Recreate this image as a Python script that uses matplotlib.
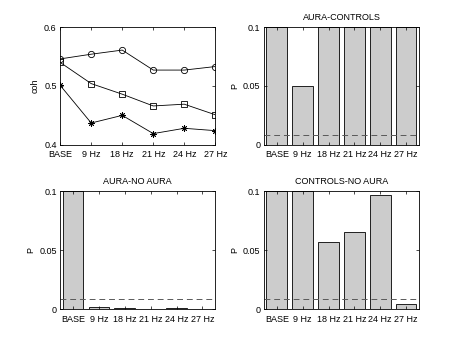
import matplotlib
matplotlib.use("Agg")
import matplotlib.pyplot as plt

plt.rcParams["font.family"] = ["Liberation Sans", "DejaVu Sans"]
plt.rcParams["font.size"] = 6.5

freqs = ["BASE", "9 Hz", "18 Hz", "21 Hz", "24 Hz", "27 Hz"]

# coherence, top-left panel
coh_circle = [0.546, 0.554, 0.561, 0.527, 0.527, 0.533]
coh_square = [0.540, 0.504, 0.486, 0.466, 0.469, 0.451]
coh_star = [0.501, 0.437, 0.450, 0.419, 0.428, 0.424]

# p-values for the three comparisons (clipped at 0.1 on the plot)
p_aura_controls = [0.1, 0.0496, 0.1, 0.1, 0.1, 0.1]
p_aura_noaura = [0.1, 0.0014, 0.0011, 0.0002, 0.0006, 0.0003]
p_controls_noaura = [0.1, 0.1, 0.0566, 0.0659, 0.0966, 0.0039]
alpha_corr = 0.05 / 6

x = list(range(1, 7))


def style(ax):
    ax.tick_params(direction="in", length=2.5, width=0.5, top=True, right=True, pad=2.5)
    ax.tick_params(axis="x", pad=4)
    for s in ax.spines.values():
        s.set_linewidth(0.6)


fig = plt.figure(figsize=(4.63, 3.48), dpi=100)

ax = fig.add_axes([0.13, 0.584, 0.335, 0.338])
for y, m in [(coh_circle, "o"), (coh_square, "s"), (coh_star, (8, 2, 0))]:
    ax.plot(x, y, color="black", lw=0.6, marker=m, ms=4.5 if m != "s" else 4,
            mfc="none", mec="black", mew=0.6)
ax.set_xlim(1, 6)
ax.set_ylim(0.4, 0.6)
ax.set_yticks([0.4, 0.5, 0.6])
ax.set_yticklabels(["0.4", "0.5", "0.6"])
ax.set_xticks(x)
ax.set_xticklabels(freqs)
ax.set_ylabel("coh", labelpad=3)
style(ax)

panels = [
    ([0.57, 0.584, 0.335, 0.338], p_aura_controls, "AURA-CONTROLS"),
    ([0.13, 0.112, 0.335, 0.338], p_aura_noaura, "AURA-NO AURA"),
    ([0.57, 0.112, 0.335, 0.338], p_controls_noaura, "CONTROLS-NO AURA"),
]
for rect, vals, title in panels:
    ax = fig.add_axes(rect)
    ax.bar(x, vals, width=0.8, color="0.8", edgecolor="black", lw=0.6)
    ax.axhline(alpha_corr, color="0.35", ls=(0, (6, 4)), lw=0.7)
    ax.set_xlim(0.5, 6.5)
    ax.set_ylim(0, 0.1)
    ax.set_yticks([0, 0.05, 0.1])
    ax.set_yticklabels(["0", "0.05", "0.1"])
    ax.set_xticks(x)
    ax.set_xticklabels(freqs)
    ax.set_ylabel("P", labelpad=3)
    ax.set_title(title, fontsize=6.5, pad=5)
    style(ax)

fig.savefig("out.png", dpi=100)
